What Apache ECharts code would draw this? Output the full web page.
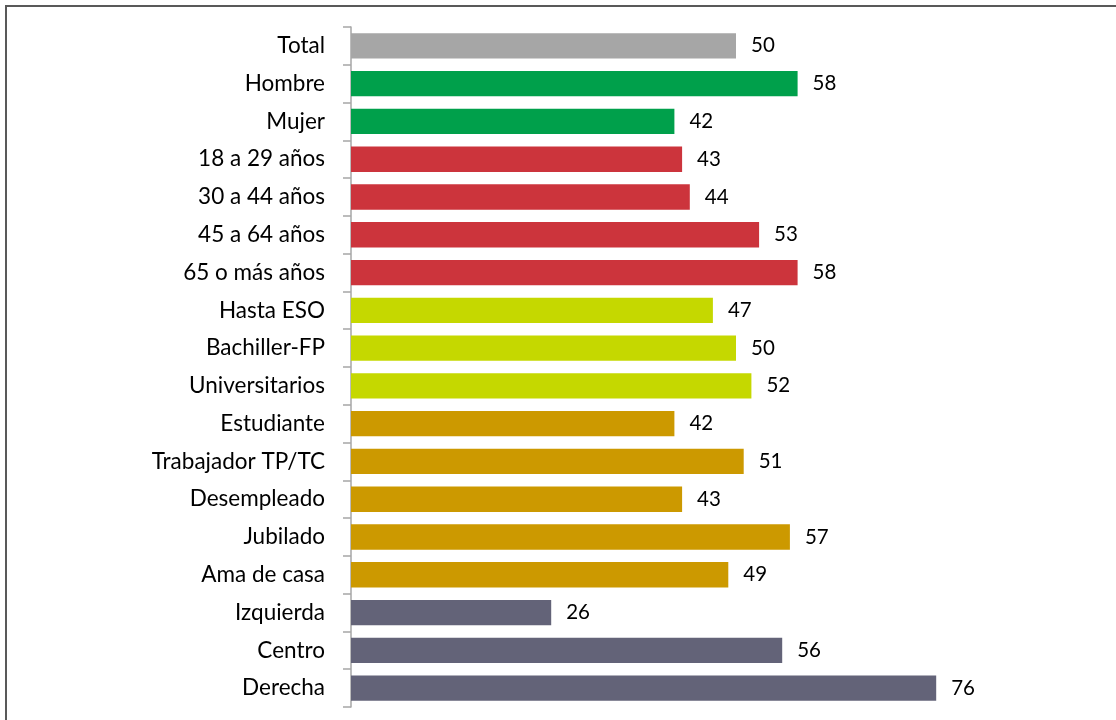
<!DOCTYPE html>
<html><head><meta charset="utf-8">
<script src="https://cdn.jsdelivr.net/npm/echarts@6/dist/echarts.min.js"></script>
<style>html,body{margin:0;padding:0;background:#fff}#c{width:1116px;height:720px}</style>
</head><body><div id="c"></div>
<script>
const categories = ["Total","Hombre","Mujer","18 a 29 años","30 a 44 años","45 a 64 años","65 o más años","Hasta ESO","Bachiller-FP","Universitarios","Estudiante","Trabajador TP/TC","Desempleado","Jubilado","Ama de casa","Izquierda","Centro","Derecha"];
const values = [50,58,42,43,44,53,58,47,50,52,42,51,43,57,49,26,56,76];
const groupColors = ["#A6A6A6","#00A04B","#00A04B","#CC343C","#CC343C","#CC343C","#CC343C","#C5D800","#C5D800","#C5D800","#CC9900","#CC9900","#CC9900","#CC9900","#CC9900","#636378","#636378","#636378"];

const chart = echarts.init(document.getElementById('c'));
chart.setOption({
  animation:false,
  graphic:[
    {type:'line',shape:{x1:5,y1:6,x2:1116,y2:6},style:{stroke:'#595959',lineWidth:2}},
    {type:'line',shape:{x1:6,y1:5,x2:6,y2:720},style:{stroke:'#595959',lineWidth:2}}
  ],
  grid:{left:351,top:27,width:616,height:680,containLabel:false},
  xAxis:{type:'value',min:0,max:80,show:false},
  yAxis:{type:'category',data:categories,inverse:true,
    axisLine:{show:true,lineStyle:{color:'#A6A6A6',width:1.5}},
    axisTick:{show:true,length:8,lineStyle:{color:'#A6A6A6',width:1.5}},
    axisLabel:{margin:26,fontFamily:'Lato',fontSize:22.5,color:'#000',padding:[3,0,0,0]}},
  series:[{type:'bar',data:values.map((v,i)=>({value:v,itemStyle:{color:groupColors[i]}})),
    barCategoryGap:'33%',
    label:{show:true,position:'right',distance:15,fontFamily:'Lato',fontSize:20.5,color:'#000',padding:[3,0,0,0]}}]
});
</script></body></html>
